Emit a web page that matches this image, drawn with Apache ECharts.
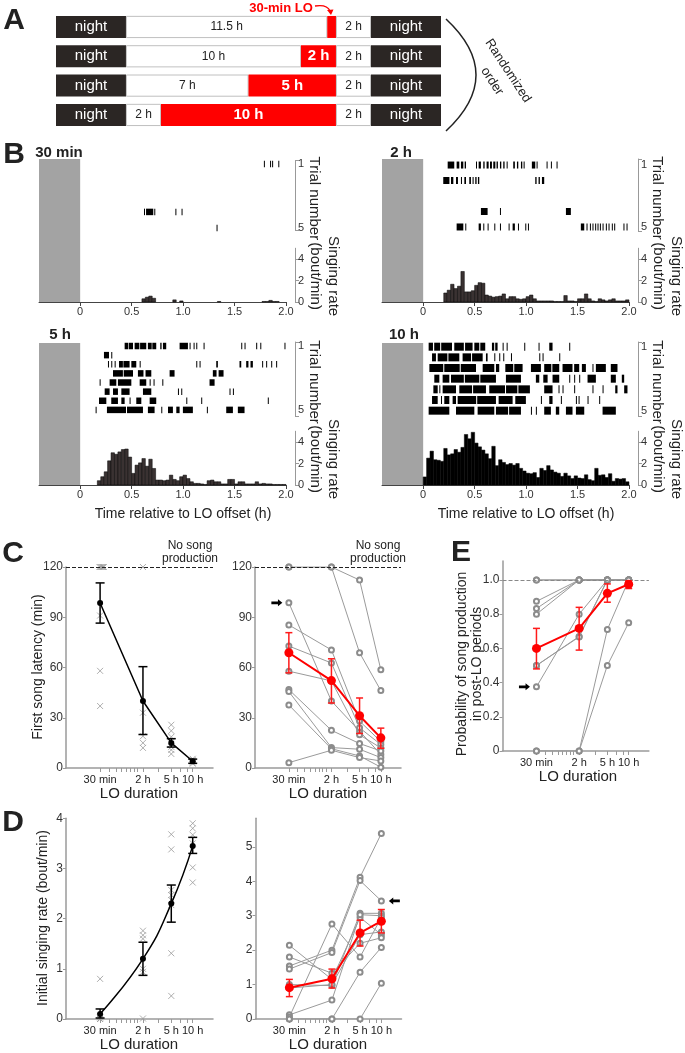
<!DOCTYPE html>
<html><head><meta charset="utf-8">
<script src="https://cdn.jsdelivr.net/npm/echarts@6/dist/echarts.min.js"></script>
<style>html,body{margin:0;padding:0;background:#fff}#c{width:685px;height:1053px}</style>
</head><body><div id="c"></div>
<script>
// ---------------- DATA ----------------
// Panel A: light schedule (hours)
const scheduleRows = ['30 min', '2 h', '5 h', '10 h'];
const nightBefore = [4, 4, 4, 4];
const preLight = [11.5, 10, 7, 2];
const loDur = [0.5, 2, 5, 10];
const postLight = [2, 2, 2, 2];
const nightAfter = [4, 4, 4, 4];

// Panel B: raster events [start h, end h, trial row]
const raster30min = [[1.79,1.79,1],[1.85,1.85,1],[1.87,1.87,1],[1.93,1.93,1],
 [0.625,0.635,4],[0.645,0.715,4],[0.725,0.728,4],[0.93,0.93,4],[0.99,0.99,4],[1.33,1.33,5]];
const raster2h = [
 [0.243,0.307,1],[0.330,0.356,1],[0.372,0.395,1],[0.408,0.421,1],[0.518,0.528,1],[0.544,0.566,1],[0.589,0.602,1],[0.621,0.641,1],[0.654,0.673,1],[0.686,0.706,1],[0.718,0.731,1],[0.751,0.764,1],[0.783,0.796,1],[0.816,0.825,1],[0.880,0.896,1],[0.916,0.929,1],[0.955,0.968,1],[0.981,0.987,1],[1.061,1.094,1],[1.107,1.107,1],[1.204,1.204,1],[1.246,1.246,1],[1.301,1.301,1],
 [0.20,0.26,2],[0.275,0.298,2],[0.324,0.343,2],[0.372,0.382,2],[0.405,0.421,2],[0.453,0.469,2],[0.485,0.495,2],[0.511,0.524,2],[0.537,0.55,2],[1.094,1.107,2],[1.126,1.139,2],[1.159,1.181,2],
 [0.566,0.631,4],[0.751,0.751,4],[1.392,1.44,4],
 [0.330,0.395,5],[0.414,0.414,5],[0.544,0.566,5],[0.589,0.589,5],[0.631,0.631,5],[0.696,0.696,5],[0.751,0.751,5],[0.835,0.835,5],[0.874,0.896,5],[0.926,0.926,5],[0.997,0.997,5],[1.023,1.023,5],[1.537,1.570,5],[1.592,1.602,5],[1.625,1.625,5],[1.650,1.650,5],[1.676,1.676,5],[1.699,1.699,5],[1.722,1.722,5],[1.748,1.748,5],[1.780,1.780,5],[1.806,1.806,5],[1.838,1.838,5],[1.861,1.861,5],[1.951,1.951,5],[1.981,1.981,5]];
const raster5h = [
 [0.437,0.47,1],[0.476,0.518,1],[0.534,0.58,1],[0.587,0.647,1],[0.663,0.70,1],[0.706,0.744,1],[0.783,0.796,1],[0.809,0.841,1],[0.971,1.052,1],[1.068,1.074,1],[1.107,1.107,1],[1.133,1.133,1],[1.204,1.204,1],[1.570,1.570,1],[1.602,1.602,1],[1.715,1.725,1],[1.755,1.764,1],[1.990,1.990,1],
 [0.236,0.285,2],[0.307,0.307,2],
 [0.275,0.275,3],[0.307,0.307,3],[0.340,0.340,3],[0.382,0.42,3],[0.425,0.485,3],[0.502,0.550,3],[0.583,0.583,3],[1.133,1.133,3],[1.165,1.165,3],[1.327,1.343,3],[1.553,1.570,3],[1.618,1.640,3],[1.660,1.683,3],[1.773,1.773,3],[1.812,1.812,3],[1.861,1.861,3],[1.909,1.909,3],
 [0.324,0.42,4],[0.428,0.518,4],[0.566,0.62,4],[0.64,0.696,4],[0.874,0.922,4],[1.294,1.33,4],[1.35,1.398,4],
 [0.194,0.194,5],[0.291,0.356,5],[0.372,0.502,5],[0.583,0.647,5],[0.680,0.680,5],[0.718,0.718,5],[0.803,0.803,5],[1.262,1.311,5],
 [0.243,0.291,6],[0.324,0.372,6],[0.405,0.485,6],[0.615,0.696,6],[0.955,0.955,6],[0.987,0.987,6],[1.456,1.456,6],[1.489,1.489,6],
 [0.188,0.259,7],[0.307,0.372,7],[0.405,0.437,7],[0.485,0.485,7],[0.550,0.599,7],[0.680,0.744,7],[1.036,1.036,7],[1.181,1.181,7],[1.828,1.828,7],
 [0.155,0.155,8],[0.265,0.45,8],[0.46,0.615,8],[0.663,0.728,8],[0.793,0.793,8],[0.858,0.906,8],[0.939,0.971,8],[1.003,1.100,8],[1.236,1.236,8],[1.424,1.489,8],[1.537,1.602,8]];
const raster10h = [
 [0.058,0.10,1],[0.112,0.17,1],[0.18,0.285,1],[0.307,0.40,1],[0.412,0.485,1],[0.502,0.55,1],[0.56,0.608,1],[0.673,0.695,1],[0.705,0.728,1],[0.777,0.777,1],[0.816,0.816,1],[0.987,0.987,1],[1.126,1.126,1],[1.230,1.262,1],[1.424,1.424,1],
 [0.091,0.129,2],[0.146,0.24,2],[0.25,0.356,2],[0.388,0.47,2],[0.48,0.583,2],[0.615,0.631,2],[0.696,0.696,2],[0.744,0.744,2],[0.783,0.783,2],[0.858,0.858,2],[1.133,1.133,2],[1.165,1.165,2],[1.327,1.327,2],
 [0.065,0.20,3],[0.21,0.36,3],[0.37,0.518,3],[0.583,0.696,3],[0.712,0.744,3],[0.803,0.88,3],[0.89,0.971,3],[1.052,1.149,3],[1.181,1.25,3],[1.26,1.327,3],[1.359,1.456,3],[1.472,1.521,3],[1.547,1.586,3],[1.650,1.650,3],[1.683,1.780,3],[1.828,1.893,3],
 [0.113,0.162,4],[0.194,0.259,4],[0.275,0.40,4],[0.41,0.55,4],[0.56,0.712,4],[0.809,0.955,4],[1.100,1.133,4],[1.172,1.214,4],[1.262,1.327,4],[1.424,1.424,4],[1.472,1.472,4],[1.521,1.521,4],[1.602,1.683,4],[1.828,1.877,4],[1.935,1.958,4],
 [0.104,0.146,5],[0.162,0.162,5],[0.194,0.324,5],[0.356,0.48,5],[0.49,0.615,5],[0.647,0.80,5],[0.81,0.92,5],[0.93,1.042,5],[1.181,1.262,5],[1.320,1.320,5],[1.359,1.359,5],[1.472,1.472,5],[1.650,1.650,5],[1.748,1.748,5],[1.871,1.893,5],[1.958,1.990,5],
 [0.091,0.146,6],[0.178,0.178,6],[0.210,0.259,6],[0.291,0.324,6],[0.340,0.52,6],[0.53,0.712,6],[0.738,0.874,6],[0.900,1.003,6],[1.149,1.149,6],[1.230,1.262,6],[1.343,1.343,6],[1.489,1.489,6],[1.515,1.515,6],[1.602,1.602,6],[1.715,1.715,6],
 [0.058,0.259,7],[0.324,0.502,7],[0.534,0.696,7],[0.712,0.83,7],[0.84,0.955,7],[1.052,1.052,7],[1.100,1.100,7],[1.181,1.246,7],[1.294,1.327,7],[1.392,1.456,7],[1.489,1.570,7],[1.748,1.877,7]];
// Panel B: singing-rate histograms, 2-min bins from 0 to 2 h (bout/min)
const hist30min = [0,0,0,0,0,0,0,0,0,0, 0,0,0,0,0,0,0,0,0.3,0.45, 0.55,0.35,0,0,0,0,0,0.2,0,0.1, 0,0,0,0,0,0,0,0,0,0, 0.05,0,0,0,0,0,0,0,0,0, 0,0,0,0.05,0.05,0.15,0.05,0.05,0,0];
const hist2h = [0,0,0,0,0,0,0.84,1.1,1.65,1.25, 1.47,2.84,0.94,0.94,1.05,1.55,1.8,1.75,0.65,0.55, 0.45,0.5,0.55,0.75,0.3,0.5,0.5,0.3,0.25,0.3, 0.5,0.65,0.3,0.1,0.1,0.1,0.1,0.1,0.05,0.05, 0.05,0.6,0.1,0.1,0.05,0.3,0.3,0.75,0.3,0.1, 0.05,0.3,0.2,0.1,0.2,0.3,0.1,0.1,0.1,0.2];
const hist5h = [0,0,0,0,0,0.4,0.77,1.23,2.25,3.0, 2.86,3.08,3.3,3.35,2.6,1.08,1.85,2.06,2.46,1.75, 2.4,1.54,0.46,0.46,0.4,0.46,0.92,0.52,0.4,0.77, 0.92,0.6,0.3,0.15,0.15,0.1,0.05,0.4,0.46,0.3, 0.3,0.1,0.1,0.52,0.52,0.1,0.3,0.3,0.1,0.1, 0.1,0.3,0.1,0.15,0.1,0.1,0.05,0.05,0.05,0.05];
const hist10h = [0.75,2.5,3.15,2.35,2.3,2.2,3.4,2.8,2.9,3.3, 3.05,3.5,4.7,4.3,4.9,3.9,3.55,3.25,2.9,2.45, 3.6,1.8,2.35,2.1,1.9,2.0,1.85,2.0,1.55,1.3, 1.1,1.05,1.15,0.7,1.55,1.35,1.8,1.4,1.2,1.1, 0.8,1.1,0.85,0.6,0.85,0.65,0.6,0.95,0.5,0.4, 1.55,0.9,0.95,0.7,1.05,0.35,0.6,0.55,0.6,0.3];
const histBinH = 2 / 60;
const timeTicks = [0, 0.5, 1, 1.5, 2];
const rateTicks = [0, 2, 4];
const trialLabels = ['1', '5'];

// Panels C-E
const durationsH = [0.5, 2, 5, 10];
const durationLabels = ['30 min', '2 h', '5 h', '10 h'];
const minorTickMin = [30,40,50,60,70,80,90,100,120,200,300,400,500,600];

// C left: per-animal first song latency (min)
const latAnimalDur = [0.49,0.505,0.52,0.535,0.55,0.565,0.5,0.5,0.5, 2,2,2,2,2, 5,5,5,5,5,5,5,5, 10,10,10,10,10];
const latAnimalVal = [120,120,120,120,120,120,91,58,37, 120,33,19,15,12, 25.8,22.2,18.6,16.2,14.4,12.6,10.8,8.4, 5.5,4.8,4,3.2,2.6];
const latMeanA = [98.5, 40, 15, 4];
const latLowA = [86.5, 20, 12.5, 2.8];
const latHighA = [110.5, 60.5, 17.5, 5.3];
// C right: per-session
const latSessions = [
 [120,120,112.2,58.6],[120,120,68.8,46.2],[98.6,40,22,8],[85.4,70.5,28,15.8],[72.8,62.7,24,14],
 [57.8,52,19.8,12],[46.8,22.5,14.6,10.2],[45.6,12.2,11.2,6.2],[37.6,11.5,7.2,0.5],[3.2,10.6,6.2,4.2]];
const latMeanS = [68.8, 52.2, 31.2, 18];
const latLowS = [56.8, 38.8, 20.6, 11.8];
const latHighS = [80.8, 65.2, 41.8, 23.8];

// D left: per-animal initial singing rate
const rateAnimalDur = [0.5,0.5,0.5,0.5,0.5, 2,2,2,2,2,2, 5,5,5,5,5,5,5,5, 10,10,10,10,10,10];
const rateAnimalVal = [0.8,0.06,0.03,0,0, 1.76,1.67,1.6,1.0,0.94,0.01, 3.68,3.38,2.57,2.47,2.37,2.27,1.31,0.46, 3.9,3.8,3.67,3.5,3.02,2.72];
const rateMeanA = [0.1, 1.2, 2.3, 3.45];
const rateLowA = [0.02, 0.87, 1.93, 3.3];
const rateHighA = [0.2, 1.53, 2.67, 3.62];
// D right: per-session
const rateSessions = [
 [2.14,1.15,2.95,2.45],[1.8,1.33,2.2,2.36],[1.54,2.0,4.12,5.39],[1.45,1.93,4.02,3.43],[1.0,0.97,3.07,3.07],
 [0.9,1.0,2.45,2.53],[0.12,0.55,3.03,3.0],[0.06,2.76,1.8,2.95],[0,0,1.36,2.08],[0,0,0,1.04]];
const rateMeanS = [0.91, 1.17, 2.5, 2.84];
const rateLowS = [0.65, 0.9, 2.12, 2.5];
const rateHighS = [1.15, 1.45, 2.87, 3.18];

// E: probability of song production
const probSessions = [
 [1,1,1,1],[1,1,1,1],[0.875,1,1,1],[0.833,1,1,1],[0.8,1,1,1],
 [0.5,0.67,1,1],[0.5,0.667,1,1],[0.375,0.8,1,1],[0,0,0.71,1],[0,0,0.5,0.75]];
const probMean = [0.6, 0.717, 0.922, 0.975];
const probLow = [0.48, 0.59, 0.87, 0.95];
const probHigh = [0.717, 0.84, 0.977, 0.995];

// ---------------- BUILD ----------------
const FONT = '"Liberation Sans", Arial, Helvetica, sans-serif';
const grids = [], xAxes = [], yAxes = [], series = [], graphics = [];
function addGrid(g, xa, ya) {
  const i = grids.length; grids.push(g);
  xAxes.push(Object.assign({gridIndex: i}, xa));
  yAxes.push(Object.assign({gridIndex: i}, ya));
  return i;
}
function txt(x, y, text, size, o) {
  o = o || {};
  return {type: 'text', x: x, y: y, rotation: o.rot || 0, z: 100,
    style: {text: text, font: (o.bold ? 'bold ' : '') + size + 'px ' + FONT, fill: o.color || '#222',
      align: o.align || 'center', verticalAlign: 'middle', textAlign: o.align || 'center',
      textVerticalAlign: 'middle', lineHeight: o.lh || size * 1.15}};
}

// ---- Panel A
const gA = addGrid({left: 56, top: 12.3, width: 385, height: 117.3},
  {type: 'value', min: 0, max: 22, show: false},
  {type: 'category', data: scheduleRows, inverse: true, show: false});
const segs = [
  {data: nightBefore, color: '#2b2624', fmt: () => 'night', lc: '#fff', ls: 15, lw: 'normal', bw: 0},
  {data: preLight, color: '#fff', fmt: p => p.value + ' h', lc: '#222', ls: 12, lw: 'normal', bw: 0.8},
  {data: loDur, color: '#ff0000', fmt: p => (p.value >= 1 ? p.value + ' h' : ''), lc: '#fff', ls: 15, lw: 'bold', bw: 0},
  {data: postLight, color: '#fff', fmt: p => p.value + ' h', lc: '#222', ls: 12, lw: 'normal', bw: 0.8},
  {data: nightAfter, color: '#2b2624', fmt: () => 'night', lc: '#fff', ls: 15, lw: 'normal', bw: 0}
];
segs.forEach(s => series.push({type: 'bar', xAxisIndex: gA, yAxisIndex: gA, stack: 'sched', data: s.data,
  barWidth: 22, itemStyle: {color: s.color, borderColor: '#b0b0b0', borderWidth: s.bw},
  label: {show: true, position: 'inside', formatter: s.fmt, color: s.lc, fontSize: s.ls, fontWeight: s.lw, fontFamily: FONT}}));

// ---- Panel B
const bPanels = [
  {title: '30 min', raster: raster30min, hist: hist30min, rows: 5, L: 39, bgTop: 159, bgBot: 302, rTop: 160.7, rH: 69.3, rMin: 0.8, rMax: 5.13, hTop: 248.25, hBot: 302, tH: 6.5, fill: '#3a3232', stroke: '#000', tx: 59, ty: 152.5},
  {title: '2 h', raster: raster2h, hist: hist2h, rows: 5, L: 382, bgTop: 159, bgBot: 302, rTop: 159, rH: 72, rMin: 0.61, rMax: 5.26, hTop: 248.25, hBot: 302, tH: 7, fill: '#3a3232', stroke: '#000', tx: 401, ty: 152.5},
  {title: '5 h', raster: raster5h, hist: hist5h, rows: 8, L: 39, bgTop: 343, bgBot: 485, rTop: 342, rH: 74, rMin: 0.56, rMax: 8.67, hTop: 431.25, hBot: 485, tH: 6.5, fill: '#3a3232', stroke: '#000', tx: 60, ty: 335, xl: true},
  {title: '10 h', raster: raster10h, hist: hist10h, rows: 7, L: 382, bgTop: 343, bgBot: 485, rTop: 342, rH: 74, rMin: 0.56, rMax: 7.5, hTop: 431.25, hBot: 485, tH: 8, fill: '#000', stroke: '#000', tx: 404, ty: 335, xl: true}
];
const W = 247;
bPanels.forEach(p => {
  const hidX = {type: 'value', min: -0.4, max: 2, show: false};
  const gb = addGrid({left: p.L, top: p.bgTop, width: W, height: p.bgBot - p.bgTop}, hidX, {type: 'value', min: 0, max: 1, show: false});
  series.push({type: 'custom', xAxisIndex: gb, yAxisIndex: gb, data: [[-0.4, 0]], z: 1,
    renderItem: (params, api) => {
      const a = api.coord([api.value(0), 0]), b = api.coord([api.value(1), 0]);
      const cs = params.coordSys;
      return {type: 'rect', shape: {x: a[0], y: cs.y, width: b[0] - a[0], height: cs.height}, style: {fill: '#a3a3a3'}};
    }});
  const gr = addGrid({left: p.L, top: p.rTop, width: W, height: p.rH}, hidX,
    {type: 'value', min: p.rMin, max: p.rMax, inverse: true, position: 'right', offset: 9,
     axisLine: {show: true, onZero: false, lineStyle: {color: '#999', width: 1}},
     axisTick: {show: true, length: 4, customValues: [p.rMin, p.rMax], lineStyle: {color: '#999'}},
     axisLabel: {customValues: [1, p.rows], formatter: v => (v === 1 ? trialLabels[0] : trialLabels[1]), color: '#333', fontSize: 11, margin: 3, fontFamily: FONT},
     splitLine: {show: false}});
  series.push({type: 'custom', xAxisIndex: gr, yAxisIndex: gr, data: p.raster, encode: {x: [0, 1], y: 2}, z: 3,
    renderItem: (params, api) => {
      const a = api.coord([api.value(0), api.value(2)]), b = api.coord([api.value(1), api.value(2)]);
      const w = Math.max(1, b[0] - a[0]);
      return {type: 'rect', shape: {x: a[0] - 0.5, y: a[1] - p.tH / 2, width: w, height: p.tH}, style: {fill: '#000'}};
    }});
  const gh = addGrid({left: p.L, top: p.hTop, width: W, height: p.hBot - p.hTop},
    {type: 'value', min: -0.4, max: 2,
     axisLine: {show: true, onZero: false, lineStyle: {color: '#444', width: 1}},
     axisTick: {show: true, length: 4, customValues: timeTicks, lineStyle: {color: '#444'}},
     axisLabel: {customValues: timeTicks, formatter: v => (v === 0 ? '0' : v.toFixed(1)), color: '#333', fontSize: 11, margin: 4, fontFamily: FONT},
     splitLine: {show: false}},
    {type: 'value', min: 0, max: 5, position: 'right', offset: 9,
     axisLine: {show: true, onZero: false, lineStyle: {color: '#999', width: 1}},
     axisTick: {show: true, length: 4, customValues: rateTicks, lineStyle: {color: '#999'}},
     axisLabel: {customValues: rateTicks, color: '#333', fontSize: 11, margin: 3, fontFamily: FONT},
     splitLine: {show: false}});
  series.push({type: 'custom', xAxisIndex: gh, yAxisIndex: gh, z: 3,
    data: p.hist.map((v, i) => [i * histBinH, (i + 1) * histBinH, v]), encode: {x: [0, 1], y: 2},
    renderItem: (params, api) => {
      const v = api.value(2);
      if (!(v > 0)) return null;
      const a = api.coord([api.value(0), v]), b = api.coord([api.value(1), 0]);
      return {type: 'rect', shape: {x: a[0], y: a[1], width: b[0] - a[0], height: b[1] - a[1]},
        style: {fill: p.fill, stroke: p.stroke, lineWidth: 0.5}};
    }});
  const ax = p.L + W + 9;
  graphics.push(txt(p.tx, p.ty, p.title, 15, {bold: true}));
  graphics.push(txt(ax + 19, p.rTop + p.rH / 2 + 3, 'Trial number', 15, {rot: -Math.PI / 2, color: '#222'}));
  graphics.push(txt(ax + 29, (p.hTop + p.hBot) / 2 + 1, 'Singing rate\n(bout/min)', 15, {rot: -Math.PI / 2, lh: 18, color: '#222'}));
  if (p.xl) graphics.push(txt(p.L + 41 + 103, 514, 'Time relative to LO offset (h)', 14));
});

// ---- Panels C, D, E
const LOGMIN = -0.78, LOGMAX = 1.285;
const lx = d => Math.log10(d);
function durAxis() {
  return {type: 'value', min: LOGMIN, max: LOGMAX,
    axisLine: {show: true, onZero: false, lineStyle: {color: '#9a9a9a', width: 1.5}},
    axisTick: {show: true, length: 4, customValues: minorTickMin.map(m => lx(m / 60)), lineStyle: {color: '#9a9a9a'}},
    axisLabel: {customValues: durationsH.map(lx), color: '#222', fontSize: 11, margin: 6, fontFamily: FONT,
      formatter: v => { const i = durationsH.findIndex(d => Math.abs(lx(d) - v) < 1e-6); return i >= 0 ? durationLabels[i] : ''; }},
    splitLine: {show: false}};
}
function yAx(min, max, ticks, fmt) {
  return {type: 'value', min: min, max: max,
    axisLine: {show: true, onZero: false, lineStyle: {color: '#9a9a9a', width: 1.5}},
    axisTick: {show: true, length: 3, customValues: ticks, lineStyle: {color: '#9a9a9a'}},
    axisLabel: {customValues: ticks, formatter: fmt, color: '#333', fontSize: 12, margin: 3, fontFamily: FONT},
    splitLine: {show: false}};
}
function errSeries(gi, lows, highs, color, cap, lw) {
  return {type: 'custom', xAxisIndex: gi, yAxisIndex: gi, z: 8,
    data: durationsH.map((d, i) => [lx(d), lows[i], highs[i]]), encode: {x: 0, y: [1, 2]},
    renderItem: (params, api) => {
      const x = api.value(0);
      const p1 = api.coord([x, api.value(1)]), p2 = api.coord([x, api.value(2)]);
      const st = {stroke: color, lineWidth: lw};
      return {type: 'group', children: [
        {type: 'line', shape: {x1: p1[0], y1: p1[1], x2: p2[0], y2: p2[1]}, style: st},
        {type: 'line', shape: {x1: p1[0] - cap, y1: p1[1], x2: p1[0] + cap, y2: p1[1]}, style: st},
        {type: 'line', shape: {x1: p2[0] - cap, y1: p2[1], x2: p2[0] + cap, y2: p2[1]}, style: st}]};
    }};
}
function meanSeries(gi, means, color, size, width, smooth, extra) {
  return Object.assign({type: 'line', xAxisIndex: gi, yAxisIndex: gi, z: 9, smooth: smooth,
    data: durationsH.map((d, i) => [lx(d), means[i]]), symbol: 'circle', symbolSize: size,
    itemStyle: {color: color}, lineStyle: {color: color, width: width}}, extra || {});
}
function crossSeries(gi, durs, vals) {
  return {type: 'scatter', xAxisIndex: gi, yAxisIndex: gi, z: 4,
    data: durs.map((d, i) => [lx(d), vals[i]]), symbol: 'path://M0,0L10,10M10,0L0,10', symbolSize: 6,
    itemStyle: {color: 'rgba(0,0,0,0)', borderColor: '#9a9a9a', borderWidth: 1}};
}
function sessionSeries(gi, sessions, arrowIdx, arrowCoord, arrowOffset, arrowPath) {
  sessions.forEach((s, k) => {
    const ser = {type: 'line', xAxisIndex: gi, yAxisIndex: gi, z: 3,
      data: durationsH.map((d, i) => [lx(d), s[i]]), symbol: 'emptyCircle', symbolSize: 5,
      itemStyle: {color: '#8c8c8c', borderWidth: 1}, lineStyle: {color: '#9a9a9a', width: 1}};
    if (k === arrowIdx) ser.markPoint = {symbol: arrowPath, symbolSize: [11, 7], symbolOffset: arrowOffset,
      itemStyle: {color: '#000'}, label: {show: false}, silent: true, data: [{coord: arrowCoord}]};
    series.push(ser);
  });
}
const ARROW_R = 'path://M0,3 L9,3 L9,0 L15,5 L9,10 L9,7 L0,7 Z';
const ARROW_L = 'path://M15,3 L6,3 L6,0 L0,5 L6,10 L6,7 L15,7 Z';
const latTicks = [0, 30, 60, 90, 120];
const dashed120 = (color) => ({silent: true, symbol: 'none', label: {show: false},
  lineStyle: {type: 'dashed', color: color, width: 1}, data: [{yAxis: 120}]});

// C left
const gCL = addGrid({left: 66, top: 567, width: 147, height: 201}, durAxis(), yAx(0, 120, latTicks));
series.push(crossSeries(gCL, latAnimalDur, latAnimalVal));
series.push(errSeries(gCL, latLowA, latHighA, '#000', 4.5, 1.5));
series.push(meanSeries(gCL, latMeanA, '#000', 6, 1.5, false, {markLine: dashed120('#222')}));
// C right
const gCR = addGrid({left: 255, top: 567, width: 146, height: 201}, durAxis(), yAx(0, 120, latTicks));
sessionSeries(gCR, latSessions, 2, [lx(0.5), latSessions[2][0]], [-12, 0], ARROW_R);
series.push(errSeries(gCR, latLowS, latHighS, '#ff1a1a', 3.5, 1.5));
series.push(meanSeries(gCR, latMeanS, '#ff0000', 9, 2, false, {markLine: dashed120('#222')}));
// D left
const gDL = addGrid({left: 66, top: 818.3, width: 147, height: 200.7}, durAxis(), yAx(0, 4, [0, 1, 2, 3, 4]));
series.push(crossSeries(gDL, rateAnimalDur, rateAnimalVal));
series.push(errSeries(gDL, rateLowA, rateHighA, '#000', 4.5, 1.5));
series.push(meanSeries(gDL, rateMeanA, '#000', 6, 1.5, true));
// D right
const gDR = addGrid({left: 255.5, top: 818.3, width: 146, height: 200.7}, durAxis(), yAx(0, 5.83, [0, 1, 2, 3, 4, 5]));
sessionSeries(gDR, rateSessions, 3, [lx(10), rateSessions[3][3]], [13, 0], ARROW_L);
series.push(errSeries(gDR, rateLowS, rateHighS, '#ff1a1a', 3.5, 1.5));
series.push(meanSeries(gDR, rateMeanS, '#ff0000', 9, 2, false));
// E
const gE = addGrid({left: 502.5, top: 561, width: 146.4, height: 190}, durAxis(),
  yAx(0, 1.111, [0, 0.2, 0.4, 0.6, 0.8, 1.0], v => (v === 0 ? '0' : v.toFixed(1))));
sessionSeries(gE, probSessions, 7, [lx(0.5), probSessions[7][0]], [-12, 0], ARROW_R);
series.push(errSeries(gE, probLow, probHigh, '#ff1a1a', 3.5, 1.5));
series.push(meanSeries(gE, probMean, '#ff0000', 9, 2, false, {markLine: {silent: true, symbol: 'none', label: {show: false},
  lineStyle: {type: 'dashed', color: '#888', width: 1}, data: [{yAxis: 1}]}}));

// ---- Text and decorations
graphics.push(txt(14, 21, 'A', 30, {bold: true}));
graphics.push(txt(14, 155, 'B', 30, {bold: true}));
graphics.push(txt(13, 554, 'C', 30, {bold: true}));
graphics.push(txt(13, 823, 'D', 30, {bold: true}));
graphics.push(txt(461, 553, 'E', 30, {bold: true}));
graphics.push(txt(281, 8, '30-min LO', 13, {bold: true, color: '#ff0000'}));
graphics.push({type: 'bezierCurve', z: 100, shape: {x1: 315, y1: 6, cpx1: 327, cpy1: 4, x2: 330, y2: 11},
  style: {stroke: '#ff0000', lineWidth: 1.3, fill: null}});
graphics.push({type: 'polygon', z: 100, shape: {points: [[327, 10], [333.5, 9.5], [331, 15]]}, style: {fill: '#ff0000'}});
graphics.push({type: 'bezierCurve', z: 100, shape: {x1: 446, y1: 19, cpx1: 506, cpy1: 75, x2: 446, y2: 131},
  style: {stroke: '#222', lineWidth: 1.5, fill: null}});
graphics.push(txt(500, 76, 'Randomized\norder', 13, {rot: -0.99, lh: 19}));
graphics.push(txt(190, 552, 'No song\nproduction', 12, {lh: 13}));
graphics.push(txt(378, 552, 'No song\nproduction', 12, {lh: 13}));
graphics.push(txt(38, 667, 'First song latency (min)', 14, {rot: Math.PI / 2}));
graphics.push(txt(43, 918, 'Initial singing rate (bout/min)', 14, {rot: Math.PI / 2}));
graphics.push(txt(470, 664, 'Probability of song production\nin post-LO periods', 14, {rot: Math.PI / 2, lh: 15}));
graphics.push(txt(139, 794, 'LO duration', 15));
graphics.push(txt(328, 794, 'LO duration', 15));
graphics.push(txt(139, 1045, 'LO duration', 15));
graphics.push(txt(328, 1045, 'LO duration', 15));
graphics.push(txt(578, 777, 'LO duration', 15));

const chart = echarts.init(document.getElementById('c'), null, {width: 685, height: 1053, renderer: 'canvas'});
chart.setOption({animation: false, backgroundColor: '#fff', textStyle: {fontFamily: FONT},
  grid: grids, xAxis: xAxes, yAxis: yAxes, series: series, graphic: graphics});
</script></body></html>
